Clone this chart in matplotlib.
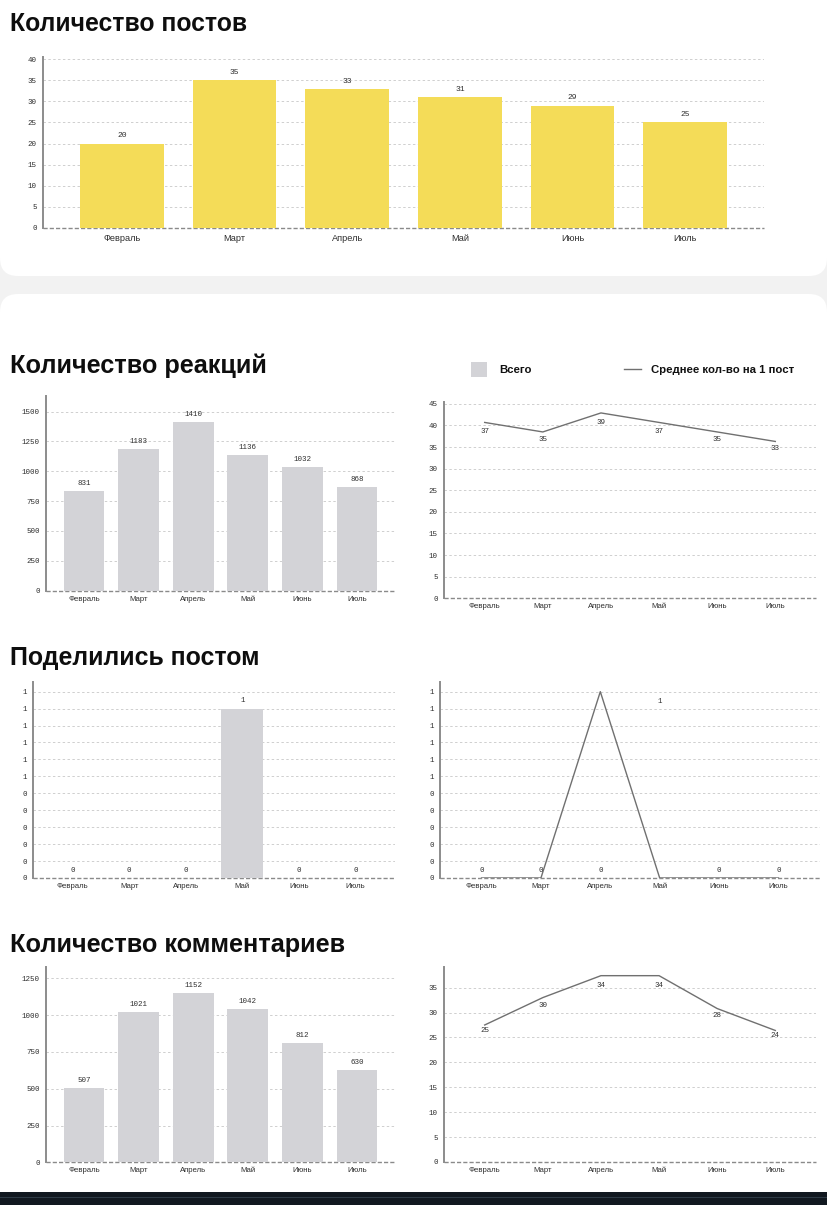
import matplotlib
matplotlib.use("Agg")
import matplotlib.pyplot as plt
from matplotlib.patches import FancyBboxPatch, Rectangle
from matplotlib.lines import Line2D

# ---------------- data ----------------
months = ["Февраль", "Март", "Апрель", "Май", "Июнь", "Июль"]

posts = [20, 35, 33, 31, 29, 25]
posts_ticks = [0, 5, 10, 15, 20, 25, 30, 35, 40]

reactions_total = [831, 1183, 1410, 1136, 1032, 868]
reactions_ticks = [0, 250, 500, 750, 1000, 1250, 1500]
reactions_avg_line = [40.7, 38.5, 42.9, 40.7, 38.5, 36.3]
reactions_avg_labels = [37, 35, 39, 37, 35, 33]
reactions_avg_ticks = [0, 5, 10, 15, 20, 25, 30, 35, 40, 45]

shares_total = [0, 0, 0, 1, 0, 0]
shares_avg_line = [0, 0, 1.1, 0, 0, 0]
shares_avg_labels = [0, 0, 0, 1, 0, 0]
shares_ticks = [0, 0.1, 0.2, 0.3, 0.4, 0.5, 0.6, 0.7, 0.8, 0.9, 1.0, 1.1]
shares_tick_labels = ["0", "0", "0", "0", "0", "0", "1", "1", "1", "1", "1", "1"]

comments_total = [507, 1021, 1152, 1042, 812, 630]
comments_ticks = [0, 250, 500, 750, 1000, 1250]
comments_avg_line = [27.5, 33.0, 37.4, 37.4, 30.8, 26.4]
comments_avg_labels = [25, 30, 34, 34, 28, 24]
comments_avg_ticks = [0, 5, 10, 15, 20, 25, 30, 35]

titles = ["Количество постов", "Количество реакций", "Поделились постом", "Количество комментариев"]
legend_labels = ["Всего", "Среднее кол-во на 1 пост"]

# ---------------- style ----------------
SANS = "Liberation Sans"
MONO = "Liberation Mono"
YELLOW = "#F4DC58"
GREY_BAR = "#D3D3D7"
LINE_C = "#707070"
TXT = "#2E2E2E"

W, H = 827, 1205
fig = plt.figure(figsize=(W / 100, H / 100), dpi=100)
fig.patch.set_facecolor("white")

# background layer in pixel coordinates
bg = fig.add_axes([0, 0, 1, 1], zorder=-10)
bg.set_xlim(0, W)
bg.set_ylim(H, 0)
bg.axis("off")
bg.add_patch(Rectangle((0, 240), W, 80, facecolor="#F2F2F2", edgecolor="none"))
bg.add_patch(FancyBboxPatch((0, -60), W, 336, boxstyle="round,pad=0,rounding_size=18",
                            facecolor="white", edgecolor="none"))
bg.add_patch(FancyBboxPatch((0, 294), W, 960, boxstyle="round,pad=0,rounding_size=18",
                            facecolor="white", edgecolor="none"))
bg.add_patch(Rectangle((0, 1192), W, 13, facecolor="#111820", edgecolor="none"))
bg.add_patch(Rectangle((0, 1196.5), W, 1.2, facecolor="#2E3B46", edgecolor="none"))

# titles
for t, yb, fs in zip(titles, [31, 373, 665, 952], [17.8, 18.2, 17.9, 18.2]):
    bg.text(10, yb, t, fontsize=fs, fontweight="bold", family=SANS, color="#0E0E0E",
            va="baseline", ha="left")

# legend
bg.add_patch(Rectangle((471, 362), 16, 15, facecolor=GREY_BAR, edgecolor="none"))
bg.text(499, 370, legend_labels[0], fontsize=8.2, fontweight="bold", family=SANS,
        color="#111111", va="center", ha="left")
bg.add_line(Line2D([624, 641], [369, 369], color=LINE_C, lw=1))
bg.text(651, 370, legend_labels[1], fontsize=8.2, fontweight="bold", family=SANS,
        color="#111111", va="center", ha="left")


def px_axes(x0, y0, x1, y1):
    return fig.add_axes([x0 / W, 1 - y1 / H, (x1 - x0) / W, (y1 - y0) / H])


def style(ax, ticks, ticklabels, ytop, month_fs, xpad):
    x = list(range(len(months)))
    ax.set_xlim(-0.7, 5.7)
    ax.set_ylim(0, ytop)
    ax.set_yticks(ticks)
    ax.set_yticklabels(ticklabels, family=MONO, fontsize=5.4, color=TXT)
    ax.set_xticks(x)
    ax.set_xticklabels(months, family=SANS, fontsize=month_fs, color=TXT)
    ax.tick_params(axis="y", length=0, pad=4.5)
    ax.tick_params(axis="x", length=0, pad=xpad)
    for s in ["top", "right", "bottom"]:
        ax.spines[s].set_visible(False)
    ax.spines["left"].set_color("#8C8C8C")
    ax.spines["left"].set_linewidth(1.4)
    ax.grid(axis="y", linestyle=(0, (2.5, 2.5)), color="#CFCFCF", lw=0.7)
    ax.set_axisbelow(True)
    ax.axhline(0, color="#8A8A8A", lw=1.0, ls=(0, (3, 1.5)), zorder=1, clip_on=False)
    ax.patch.set_alpha(0)


def bar_chart(ax, values, color, labels=None, fs=5.4):
    x = list(range(len(values)))
    ax.bar(x, values, width=0.745, color=color, zorder=2)
    labs = values if labels is None else labels
    for xi, v, l in zip(x, values, labs):
        ax.annotate(str(l), (xi, v), xytext=(0, 5.5), textcoords="offset points",
                    ha="center", va="center", family=MONO, fontsize=fs, color=TXT, zorder=3)


def line_chart(ax, values, labels):
    x = list(range(len(values)))
    ax.plot(x, values, color=LINE_C, lw=1.0, zorder=2)
    for xi, l in zip(x, labels):
        ax.annotate(str(l), (xi, l), xytext=(0, 5.2), textcoords="offset points",
                    ha="center", va="center", family=MONO, fontsize=5.4, color=TXT, zorder=3)


# posts
ax = px_axes(43, 57, 764, 228)
style(ax, posts_ticks, [str(t) for t in posts_ticks], 40.5, 6.6, 4.5)
bar_chart(ax, posts, YELLOW, fs=5.8)

# reactions
ax = px_axes(46, 396, 395, 590.7)
style(ax, reactions_ticks, [str(t) for t in reactions_ticks], 1630, 5.6, 3.5)
bar_chart(ax, reactions_total, GREY_BAR)

ax = px_axes(444, 401.7, 816, 598.3)
style(ax, reactions_avg_ticks, [str(t) for t in reactions_avg_ticks], 45.5, 5.6, 3.5)
line_chart(ax, reactions_avg_line, reactions_avg_labels)

# shares
ax = px_axes(33, 682, 395, 878)
style(ax, shares_ticks, shares_tick_labels, 1.157, 5.6, 3.5)
bar_chart(ax, shares_total, GREY_BAR)

ax = px_axes(440, 682, 820, 878)
style(ax, shares_ticks, shares_tick_labels, 1.157, 5.6, 3.5)
line_chart(ax, shares_avg_line, shares_avg_labels)

# comments
ax = px_axes(46, 966.7, 395, 1162.3)
style(ax, comments_ticks, [str(t) for t in comments_ticks], 1330, 5.6, 3.5)
bar_chart(ax, comments_total, GREY_BAR)

ax = px_axes(444, 966.7, 816, 1162)
style(ax, comments_avg_ticks, [str(t) for t in comments_avg_ticks], 39.2, 5.6, 3.5)
line_chart(ax, comments_avg_line, comments_avg_labels)

fig.savefig("out.png", dpi=100, facecolor=fig.get_facecolor())
